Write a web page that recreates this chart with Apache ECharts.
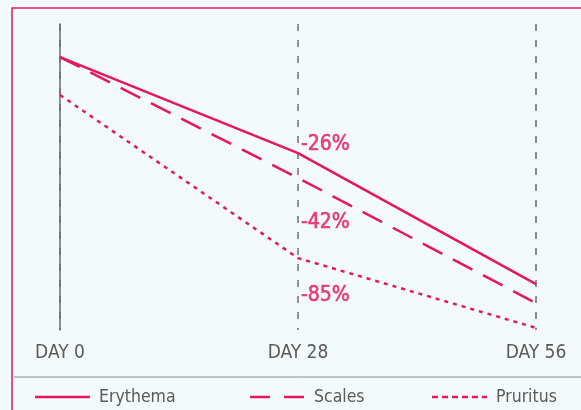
<!DOCTYPE html>
<html><head><meta charset="utf-8">
<script src="https://cdn.jsdelivr.net/npm/echarts@6/dist/echarts.min.js"></script>
<style>html,body{margin:0;padding:0;background:#f3fafc;}#c{width:581px;height:410px;}</style>
</head><body><div id="c"></div>
<script>
const days = [0, 28, 56];
const dayLabels = ['DAY 0', 'DAY 28', 'DAY 56'];
const seriesNames = ['Erythema', 'Scales', 'Pruritus'];
const erythema = [89.2, 57.8, 15.0];
const scales = [89.2, 49.7, 8.8];
const pruritus = [76.8, 23.5, 0.7];
const changeLabels = ['-26%', '-42%', '-85%'];
const changeLevels = [60.5, 35.0, 11.1];

const PINK = '#e6175f';
const GRAY = '#5a5a5a';
const FONT = '"DejaVu Sans Condensed", "Liberation Sans Narrow", sans-serif';
const dashTypes = [null, [22, 12], [4, 5]];
const legendDash = [null, [20, 14], [6, 4]];
const legendX = [35, 250, 432];

const chart = echarts.init(document.getElementById('c'));
const pts = arr => arr.map((v, i) => [days[i], v]);
const legendGraphics = [];
seriesNames.forEach((n, i) => {
  legendGraphics.push({ type: 'line', silent: true,
    shape: { x1: legendX[i], y1: 397, x2: legendX[i] + 55, y2: 397 },
    style: { stroke: PINK, lineWidth: 2.5, lineDash: legendDash[i] || null } });
  legendGraphics.push({ type: 'text', silent: true, x: legendX[i] + 64, y: 397,
    style: { text: n, fill: GRAY, font: '17.5px ' + FONT, textVerticalAlign: 'middle', verticalAlign: 'middle' } });
});
chart.setOption({
  backgroundColor: '#f3fafc',
  animation: false,
  grid: { left: 60, right: 45, top: 24, bottom: 80 },
  xAxis: {
    type: 'value', min: 0, max: 56, interval: 28,
    axisLine: { show: false }, axisTick: { show: false },
    splitLine: { show: true, lineStyle: { color: '#6e6e6e', width: 1.5, type: [7, 9] } },
    axisLabel: { margin: 14, color: GRAY, fontSize: 19, fontFamily: FONT,
      formatter: v => dayLabels[days.indexOf(v)] }
  },
  yAxis: {
    type: 'value', min: 0, max: 100,
    axisLine: { show: true, lineStyle: { color: '#6e6e6e', width: 1.5 } },
    axisTick: { show: false }, axisLabel: { show: false }, splitLine: { show: false }
  },
  graphic: [
    { type: 'rect', shape: { x: 12, y: 8, width: 620, height: 450 }, style: { fill: 'none', stroke: PINK, lineWidth: 1.5 }, silent: true },
    { type: 'line', shape: { x1: 14, y1: 377, x2: 581, y2: 377 }, style: { stroke: '#8a8a8a', lineWidth: 1 }, silent: true }
  ].concat(legendGraphics),
  series: [
    { name: seriesNames[0], type: 'line', data: pts(erythema), symbol: 'none',
      lineStyle: { color: PINK, width: 2.5 } },
    { name: seriesNames[1], type: 'line', data: pts(scales), symbol: 'none',
      lineStyle: { color: PINK, width: 2.5, type: dashTypes[1] } },
    { name: seriesNames[2], type: 'line', data: pts(pruritus), symbol: 'none',
      lineStyle: { color: PINK, width: 2.5, type: dashTypes[2] } },
    { name: 'changes', type: 'scatter', symbolSize: 0, silent: true,
      data: changeLevels.map((v, i) => ({ value: [28, v], label: { formatter: changeLabels[i] } })),
      label: { show: true, position: 'right', distance: 3, color: PINK, fontSize: 21, fontFamily: FONT,
        textBorderColor: PINK, textBorderWidth: 0.6 } }
  ]
});
</script></body></html>
